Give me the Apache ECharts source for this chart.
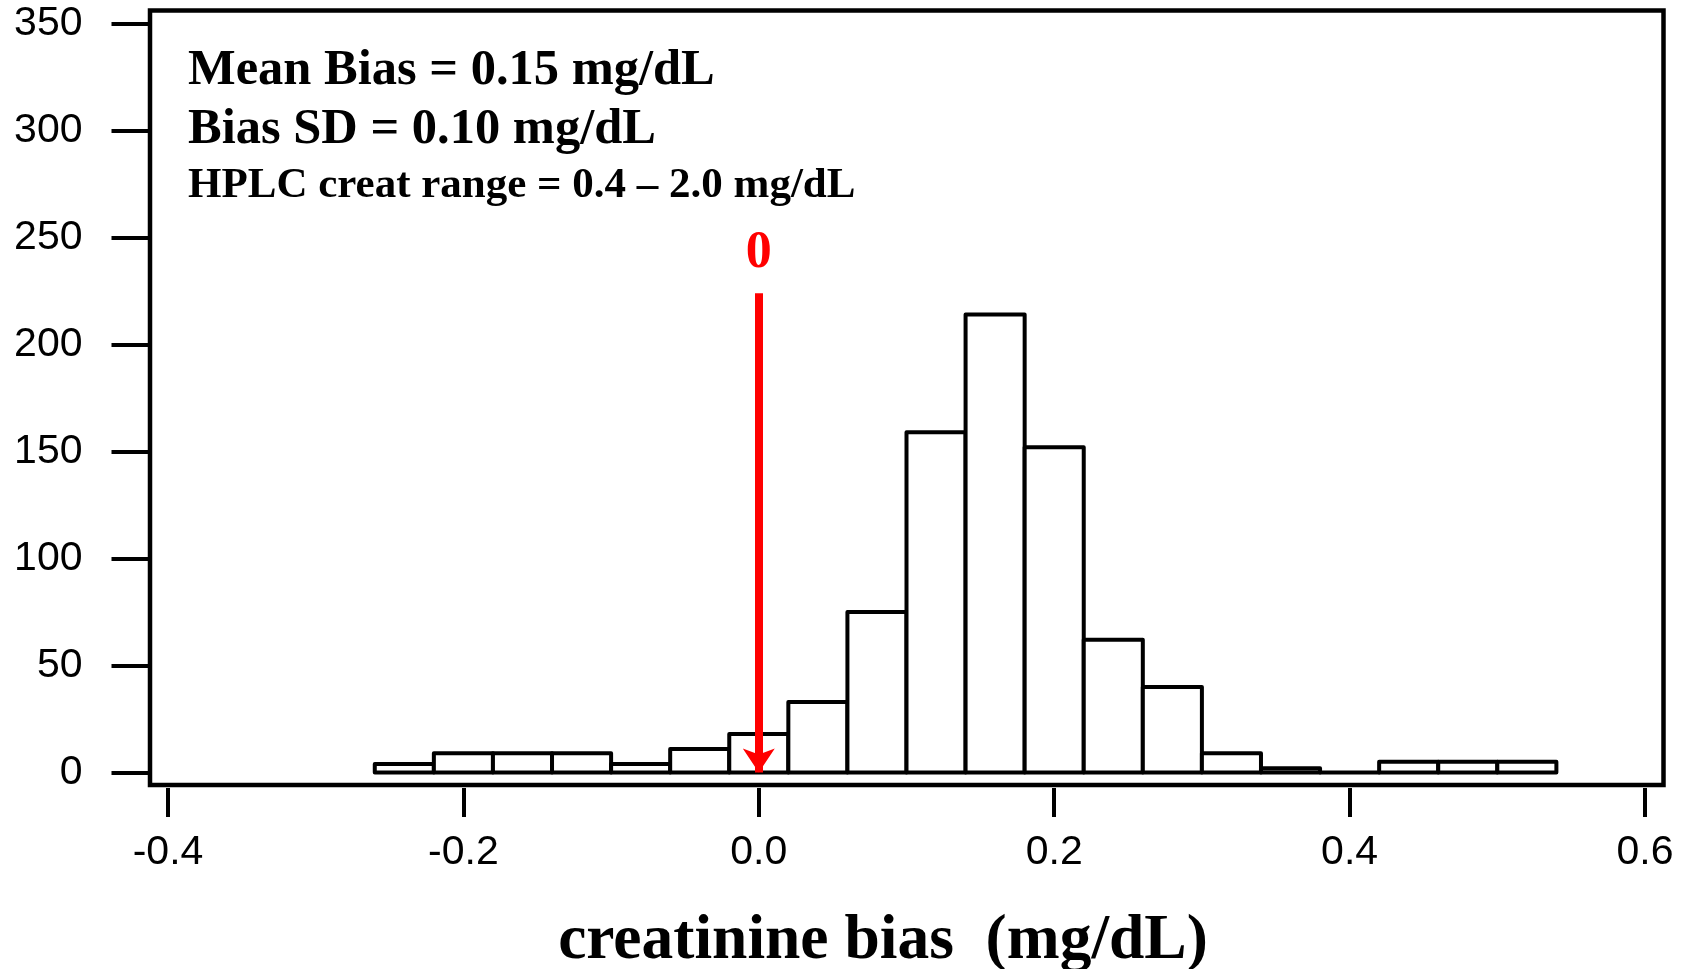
<!DOCTYPE html>
<html>
<head>
<meta charset="utf-8">
<title>creatinine bias histogram</title>
<script src="https://cdn.jsdelivr.net/npm/echarts@6/dist/echarts.min.js"></script>
<style>
  html, body { margin: 0; padding: 0; background: #fff; }
  #chart { width: 1691px; height: 969px; }
</style>
</head>
<body>
<div id="chart"></div>
<script>
// histogram bins (mg/dL) and counts
const binEdges = [-0.26, -0.22, -0.18, -0.14, -0.10, -0.06, -0.02, 0.02, 0.06, 0.10,
  0.14, 0.18, 0.22, 0.26, 0.30, 0.34, 0.38, 0.42, 0.46, 0.50, 0.54]
const counts = [4, 9, 9, 9, 4, 11, 18, 33, 75, 159, 214, 152, 62, 40, 9, 2, 0, 5, 5, 5]
const xTicks = [-0.4, 0.6, 0.2]   // min, max, step
const yTicks = [0, 350, 50]
const notes = ['Mean Bias = 0.15 mg/dL', 'Bias SD = 0.10 mg/dL', 'HPLC creat range = 0.4 \u2013 2.0 mg/dL']
const arrowFrom = 224  // count where the red arrow starts
const xTitle = 'creatinine bias  (mg/dL)'

const serif = '"Liberation Serif", "Times New Roman", serif'
const sans = '"Liberation Sans", Arial, sans-serif'

const histData = counts.map((c, i) => [binEdges[i], binEdges[i + 1], c])

const chart = echarts.init(document.getElementById('chart'))
chart.setOption({
  backgroundColor: '#fff',
  animation: false,
  grid: { left: 168, right: 46, top: 23.5, bottom: 196.5 },
  xAxis: {
    type: 'value',
    min: xTicks[0],
    max: xTicks[1],
    interval: xTicks[2],
    offset: 15.5,
    axisLine: { show: false, onZero: false },
    axisTick: { show: true, length: 29, lineStyle: { color: '#000', width: 4 } },
    axisLabel: {
      margin: 44,
      color: '#000',
      fontFamily: sans,
      fontSize: 41,
      formatter: v => v.toFixed(1)
    },
    splitLine: { show: false }
  },
  yAxis: {
    type: 'value',
    min: yTicks[0],
    max: yTicks[1],
    interval: yTicks[2],
    offset: 18.5,
    axisLine: { show: false, onZero: false },
    axisTick: { show: true, length: 38, lineStyle: { color: '#000', width: 4 } },
    axisLabel: { margin: 67, color: '#000', fontFamily: sans, fontSize: 41, padding: [3, 0, 0, 0] },
    splitLine: { show: false }
  },
  series: [{
    type: 'custom',
    data: histData,
    encode: { x: [0, 1], y: 2 },
    renderItem: function (params, api) {
      const p0 = api.coord([api.value(0), api.value(2)])
      const p1 = api.coord([api.value(1), 0])
      return {
        type: 'rect',
        shape: { x: p0[0], y: p0[1], width: p1[0] - p0[0], height: p1[1] - p0[1] },
        style: { fill: '#fff', stroke: '#000', lineWidth: 4, lineJoin: 'round' }
      }
    },
    markLine: {
      silent: true,
      symbol: ['none', 'arrow'],
      symbolSize: [24, 24],
      lineStyle: { color: '#ff0000', width: 8, type: 'solid' },
      label: {
        show: true,
        position: 'start',
        formatter: '0',
        distance: 14,
        color: '#ff0000',
        fontFamily: serif,
        fontWeight: 'bold',
        fontSize: 52
      },
      data: [[{ coord: [0, arrowFrom] }, { coord: [0, 0] }]]
    }
  }],
  graphic: [
    {
      type: 'rect',
      shape: { x: 150, y: 10.5, width: 1513.5, height: 774.5 },
      style: { fill: 'none', stroke: '#000', lineWidth: 4.5 },
      z: 0
    },
    {
      type: 'text', left: 188, top: 45,
      style: { text: notes[0], fontFamily: serif, fontWeight: 'bold', fontSize: 50.5, fill: '#000' }
    },
    {
      type: 'text', left: 188, top: 104.5,
      style: { text: notes[1], fontFamily: serif, fontWeight: 'bold', fontSize: 50.5, fill: '#000' }
    },
    {
      type: 'text', left: 188, top: 164,
      style: { text: notes[2], fontFamily: serif, fontWeight: 'bold', fontSize: 43, fill: '#000' }
    },
    {
      type: 'text', x: 883, y: 941.5,
      style: {
        text: xTitle, fontFamily: serif, fontWeight: 'bold', fontSize: 63.5, fill: '#000',
        align: 'center', verticalAlign: 'middle'
      }
    }
  ]
})
</script>
</body>
</html>
